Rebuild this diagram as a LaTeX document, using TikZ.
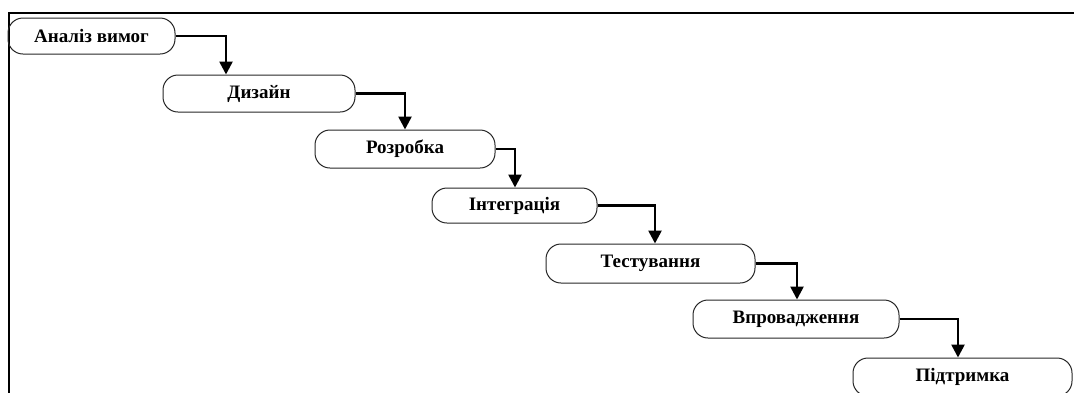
\documentclass[tikz,border=0pt]{standalone}
\usepackage{fontspec}
\setmainfont{Liberation Serif}
\usetikzlibrary{arrows.meta}
\tikzset{
  stage/.style={draw=black!85, line width=1pt, rounded corners=15pt,
    inner sep=0pt, font=\fontsize{19}{19}\selectfont\bfseries},
  flow/.style={line width=2.6pt, -{Triangle[width=13pt,length=13pt]}},
  frame/.style={line width=2pt}
}
\newcommand{\stagebox}[6]{%
  \node[stage, minimum width={#3-#2}, minimum height={#5-#4}]
    (#1) at ({(#2+#3)/2},{(#4+#5)/2}) {#6};}
\begin{document}
\begin{tikzpicture}[x=1pt, y=-1pt]
  \useasboundingbox (0,0) rectangle (1074,392);
  \clip (0,0) rectangle (1074,392);
  % outer frame, running off the right and bottom edges
  \draw[frame] (9,420) -- (9,13) -- (1100,13);

  % stages of the waterfall
  \stagebox{s1}{8}{175}{18}{54}{Аналіз вимог}
  \stagebox{s2}{163}{355}{75}{112}{Дизайн}
  \stagebox{s3}{315}{495}{130}{168}{Розробка}
  \stagebox{s4}{432}{597}{188}{223}{Інтеграція}
  \stagebox{s5}{546}{755}{244}{283}{Тестування}
  \stagebox{s6}{693}{899}{300}{338}{Впровадження}
  \stagebox{s7}{853}{1072}{358}{396}{Підтримка}

  % columns where each connector drops to the next stage
  \coordinate (d1) at (226,0);
  \coordinate (d2) at (405,0);
  \coordinate (d3) at (515,0);
  \coordinate (d4) at (655,0);
  \coordinate (d5) at (797,0);
  \coordinate (d6) at (958,0);

  \draw[flow] (s1.east) -| (d1 |- s2.north);
  \draw[flow] (s2.east) -| (d2 |- s3.north);
  \draw[flow] (s3.east) -| (d3 |- s4.north);
  \draw[flow] (s4.east) -| (d4 |- s5.north);
  \draw[flow] (s5.east) -| (d5 |- s6.north);
  \draw[flow] (s6.east) -| (d6 |- s7.north);
\end{tikzpicture}
\end{document}
